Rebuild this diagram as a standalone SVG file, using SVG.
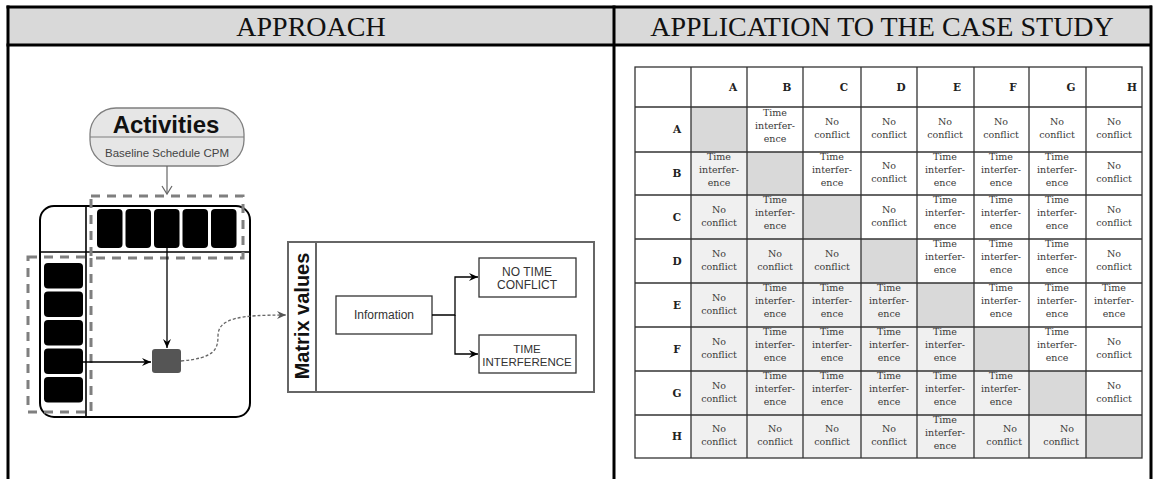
<svg xmlns="http://www.w3.org/2000/svg" width="1153" height="479" viewBox="0 0 1153 479">
<style>
.frame{stroke:#000;stroke-width:3;fill:none}
.hdr{font-family:"Liberation Serif",serif;font-size:28px;fill:#111;text-anchor:middle}
.blk{fill:#000}
.dash{fill:none;stroke:#7f7f7f;stroke-width:3;stroke-dasharray:9 7}
.ln{stroke:#000;stroke-width:1.3;fill:none}
.sans{font-family:"Liberation Sans",Arial,sans-serif;fill:#333;text-anchor:middle}
.box{fill:#fff;stroke:#333;stroke-width:1.3}
.grid{stroke:#333;stroke-width:1.3;fill:none}
.ct{font-family:"DejaVu Serif",serif;font-size:9.5px;fill:#3a3a3a;text-anchor:middle}
.ce{font-family:"DejaVu Serif",serif;font-size:9.5px;fill:#3a3a3a;text-anchor:end}
.lb{font-family:"DejaVu Serif",serif;font-size:10.5px;font-weight:bold;fill:#222;text-anchor:middle}
.diag{fill:#d9d9d9}
.low{fill:#f0f0f0}
</style>
<defs>
<marker id="ah" markerWidth="10" markerHeight="10" refX="9" refY="5" orient="auto" markerUnits="userSpaceOnUse"><path d="M0,1 L9,5 L0,9 L3,5 Z" fill="#000"/></marker>
<marker id="ahg" markerWidth="10" markerHeight="10" refX="9" refY="5" orient="auto" markerUnits="userSpaceOnUse"><path d="M0,1 L9,5 L0,9 L3,5 Z" fill="#555"/></marker>
</defs>
<rect x="0" y="0" width="1153" height="479" fill="#fff"/>

<g id="outer-table">
<rect x="8" y="7" width="1143" height="38" fill="#d9d9d9"/>
<line class="frame" x1="6.5" y1="7" x2="1152" y2="7"/>
<line class="frame" x1="6.5" y1="45" x2="1152" y2="45"/>
<line class="frame" x1="8" y1="5.5" x2="8" y2="479"/>
<line class="frame" x1="614" y1="5.5" x2="614" y2="479"/>
<line class="frame" x1="1151" y1="5.5" x2="1151" y2="479"/>
<text class="hdr" x="311" y="36">APPROACH</text>
<text class="hdr" x="882" y="36">APPLICATION TO THE CASE STUDY</text>
</g>

<g id="activities">
<rect x="90" y="108" width="154" height="58" rx="26" fill="#e6e6e6" stroke="#7f7f7f" stroke-width="1.3"/>
<line x1="90" y1="137" x2="244" y2="137" stroke="#7f7f7f" stroke-width="1.2"/>
<text x="166" y="133" font-family="Liberation Sans,Arial,sans-serif" font-size="24" font-weight="bold" fill="#111" text-anchor="middle">Activities</text>
<text x="167" y="157" font-family="Liberation Sans,Arial,sans-serif" font-size="11.5" fill="#444" text-anchor="middle">Baseline Schedule CPM</text>
</g>

<g id="matrix">
<rect x="40" y="206" width="210" height="211" rx="14" fill="#fff" stroke="#000" stroke-width="2"/>
<line x1="86" y1="206" x2="86" y2="417" stroke="#000" stroke-width="1.6"/>
<line x1="40" y1="252" x2="250" y2="252" stroke="#000" stroke-width="1.6"/>
<g id="top-activities">
<rect class="blk" x="97" y="209" width="25.5" height="39" rx="4"/>
<rect class="blk" x="125.5" y="209" width="25.5" height="39" rx="4"/>
<rect class="blk" x="154" y="209" width="25.5" height="39" rx="4"/>
<rect class="blk" x="182.5" y="209" width="25.5" height="39" rx="4"/>
<rect class="blk" x="211" y="209" width="25.5" height="39" rx="4"/>
</g>
<g id="left-activities">
<rect class="blk" x="44" y="263" width="39" height="25.5" rx="4"/>
<rect class="blk" x="44" y="291.5" width="39" height="25.5" rx="4"/>
<rect class="blk" x="44" y="320" width="39" height="25.5" rx="4"/>
<rect class="blk" x="44" y="348.5" width="39" height="25.5" rx="4"/>
<rect class="blk" x="44" y="377" width="39" height="25.5" rx="4"/>
</g>
<rect class="dash" x="91" y="196" width="152" height="62"/>
<rect class="dash" x="28" y="257" width="63" height="155"/>
<rect id="cell" x="152" y="349" width="29" height="24" rx="3" fill="#555"/>
</g>

<g id="matrix-values">
<rect x="288" y="242" width="306" height="150" fill="#fff" stroke="#666" stroke-width="2"/>
<line x1="316" y1="242" x2="316" y2="392" stroke="#666" stroke-width="2"/>
<text transform="translate(309,316) rotate(-90)" font-family="Liberation Sans,Arial,sans-serif" font-size="20" font-weight="bold" fill="#111" text-anchor="middle">Matrix values</text>
</g>
<g id="information">
<rect class="box" x="336" y="296" width="96" height="38"/>
<text class="sans" x="384" y="319" font-size="12">Information</text>
</g>
<g id="no-time-conflict">
<rect class="box" x="479" y="258" width="97" height="39"/>
<text class="sans" x="527" y="276" font-size="12">NO TIME</text>
<text class="sans" x="527" y="289" font-size="12">CONFLICT</text>
</g>
<g id="time-interference">
<rect class="box" x="479" y="335" width="97" height="38"/>
<text class="sans" x="527" y="353" font-size="11.5">TIME</text>
<text class="sans" x="527" y="366" font-size="11.5">INTERFERENCE</text>
</g>

<g id="connectors">
<line x1="167" y1="166" x2="167" y2="194" stroke="#666" stroke-width="1.2"/>
<path d="M162,186 L167,194 L172,186" fill="none" stroke="#666" stroke-width="1.2"/>
<line class="ln" x1="167" y1="248" x2="167" y2="348" marker-end="url(#ah)"/>
<line class="ln" x1="83" y1="362" x2="151" y2="362" marker-end="url(#ah)"/>
<path d="M181,361 C214,358 218,350 218,336 C218,318 240,315 286,315" fill="none" stroke="#666" stroke-width="1.3" stroke-dasharray="3 2" marker-end="url(#ahg)"/>
<path class="ln" d="M432,315 H455 V277 H478" marker-end="url(#ah)"/>
<path class="ln" d="M455,315 V354 H478" marker-end="url(#ah)"/>
</g>

<g id="case-table">
<g id="fills">
<rect class="diag" x="691" y="107" width="56" height="45"/>
<rect class="diag" x="747" y="152" width="56" height="43"/>
<rect class="diag" x="803" y="195" width="58" height="44"/>
<rect class="diag" x="861" y="239" width="56" height="44"/>
<rect class="diag" x="917" y="283" width="57" height="44"/>
<rect class="diag" x="974" y="327" width="55" height="44"/>
<rect class="diag" x="1029" y="371" width="57" height="44"/>
<rect class="diag" x="1086" y="415" width="56" height="43"/>
<rect class="low" x="691" y="152" width="56" height="43"/>
<rect class="low" x="691" y="195" width="112" height="44"/>
<rect class="low" x="691" y="239" width="170" height="44"/>
<rect class="low" x="691" y="283" width="226" height="44"/>
<rect class="low" x="691" y="327" width="283" height="44"/>
<rect class="low" x="691" y="371" width="338" height="44"/>
<rect class="low" x="691" y="415" width="395" height="43"/>
</g>
<g class="grid">
<rect x="635" y="67" width="507" height="391"/>
<line x1="691" y1="67" x2="691" y2="458"/>
<line x1="747" y1="67" x2="747" y2="458"/>
<line x1="803" y1="67" x2="803" y2="458"/>
<line x1="861" y1="67" x2="861" y2="458"/>
<line x1="917" y1="67" x2="917" y2="458"/>
<line x1="974" y1="67" x2="974" y2="458"/>
<line x1="1029" y1="67" x2="1029" y2="458"/>
<line x1="1086" y1="67" x2="1086" y2="458"/>
<line x1="635" y1="107" x2="1142" y2="107"/>
<line x1="635" y1="152" x2="1142" y2="152"/>
<line x1="635" y1="195" x2="1142" y2="195"/>
<line x1="635" y1="239" x2="1142" y2="239"/>
<line x1="635" y1="283" x2="1142" y2="283"/>
<line x1="635" y1="327" x2="1142" y2="327"/>
<line x1="635" y1="371" x2="1142" y2="371"/>
<line x1="635" y1="415" x2="1142" y2="415"/>
</g>
<g id="col-labels">
<text class="lb" x="733" y="91">A</text>
<text class="lb" x="787" y="91">B</text>
<text class="lb" x="844" y="91">C</text>
<text class="lb" x="901" y="91">D</text>
<text class="lb" x="957" y="91">E</text>
<text class="lb" x="1013" y="91">F</text>
<text class="lb" x="1071" y="91">G</text>
<text class="lb" x="1132" y="91">H</text>
</g>
<g id="row-labels">
<text class="lb" x="677" y="133">A</text>
<text class="lb" x="677" y="177">B</text>
<text class="lb" x="677" y="221">C</text>
<text class="lb" x="677" y="265">D</text>
<text class="lb" x="677" y="309">E</text>
<text class="lb" x="677" y="353">F</text>
<text class="lb" x="677" y="397">G</text>
<text class="lb" x="677" y="440">H</text>
</g>
<g id="cells">
<text class="ct" x="775" y="116">Time<tspan x="775" dy="13">interfer-</tspan><tspan x="775" dy="13">ence</tspan></text>
<text class="ct" x="832" y="125">No<tspan x="832" dy="13">conflict</tspan></text>
<text class="ct" x="889" y="125">No<tspan x="889" dy="13">conflict</tspan></text>
<text class="ct" x="945" y="125">No<tspan x="945" dy="13">conflict</tspan></text>
<text class="ct" x="1001" y="125">No<tspan x="1001" dy="13">conflict</tspan></text>
<text class="ct" x="1057" y="125">No<tspan x="1057" dy="13">conflict</tspan></text>
<text class="ct" x="1114" y="125">No<tspan x="1114" dy="13">conflict</tspan></text>

<text class="ct" x="719" y="160">Time<tspan x="719" dy="13">interfer-</tspan><tspan x="719" dy="13">ence</tspan></text>
<text class="ct" x="832" y="160">Time<tspan x="832" dy="13">interfer-</tspan><tspan x="832" dy="13">ence</tspan></text>
<text class="ct" x="889" y="169">No<tspan x="889" dy="13">conflict</tspan></text>
<text class="ct" x="945" y="160">Time<tspan x="945" dy="13">interfer-</tspan><tspan x="945" dy="13">ence</tspan></text>
<text class="ct" x="1001" y="160">Time<tspan x="1001" dy="13">interfer-</tspan><tspan x="1001" dy="13">ence</tspan></text>
<text class="ct" x="1057" y="160">Time<tspan x="1057" dy="13">interfer-</tspan><tspan x="1057" dy="13">ence</tspan></text>
<text class="ct" x="1114" y="169">No<tspan x="1114" dy="13">conflict</tspan></text>

<text class="ct" x="719" y="213">No<tspan x="719" dy="13">conflict</tspan></text>
<text class="ct" x="775" y="203">Time<tspan x="775" dy="13">interfer-</tspan><tspan x="775" dy="13">ence</tspan></text>
<text class="ct" x="889" y="213">No<tspan x="889" dy="13">conflict</tspan></text>
<text class="ct" x="945" y="203">Time<tspan x="945" dy="13">interfer-</tspan><tspan x="945" dy="13">ence</tspan></text>
<text class="ct" x="1001" y="203">Time<tspan x="1001" dy="13">interfer-</tspan><tspan x="1001" dy="13">ence</tspan></text>
<text class="ct" x="1057" y="203">Time<tspan x="1057" dy="13">interfer-</tspan><tspan x="1057" dy="13">ence</tspan></text>
<text class="ct" x="1114" y="213">No<tspan x="1114" dy="13">conflict</tspan></text>

<text class="ct" x="719" y="257">No<tspan x="719" dy="13">conflict</tspan></text>
<text class="ct" x="775" y="257">No<tspan x="775" dy="13">conflict</tspan></text>
<text class="ct" x="832" y="257">No<tspan x="832" dy="13">conflict</tspan></text>
<text class="ct" x="945" y="247">Time<tspan x="945" dy="13">interfer-</tspan><tspan x="945" dy="13">ence</tspan></text>
<text class="ct" x="1001" y="247">Time<tspan x="1001" dy="13">interfer-</tspan><tspan x="1001" dy="13">ence</tspan></text>
<text class="ct" x="1057" y="247">Time<tspan x="1057" dy="13">interfer-</tspan><tspan x="1057" dy="13">ence</tspan></text>
<text class="ct" x="1114" y="257">No<tspan x="1114" dy="13">conflict</tspan></text>

<text class="ct" x="719" y="301">No<tspan x="719" dy="13">conflict</tspan></text>
<text class="ct" x="775" y="291">Time<tspan x="775" dy="13">interfer-</tspan><tspan x="775" dy="13">ence</tspan></text>
<text class="ct" x="832" y="291">Time<tspan x="832" dy="13">interfer-</tspan><tspan x="832" dy="13">ence</tspan></text>
<text class="ct" x="889" y="291">Time<tspan x="889" dy="13">interfer-</tspan><tspan x="889" dy="13">ence</tspan></text>
<text class="ct" x="1001" y="291">Time<tspan x="1001" dy="13">interfer-</tspan><tspan x="1001" dy="13">ence</tspan></text>
<text class="ct" x="1057" y="291">Time<tspan x="1057" dy="13">interfer-</tspan><tspan x="1057" dy="13">ence</tspan></text>
<text class="ct" x="1114" y="291">Time<tspan x="1114" dy="13">interfer-</tspan><tspan x="1114" dy="13">ence</tspan></text>

<text class="ct" x="719" y="345">No<tspan x="719" dy="13">conflict</tspan></text>
<text class="ct" x="775" y="335">Time<tspan x="775" dy="13">interfer-</tspan><tspan x="775" dy="13">ence</tspan></text>
<text class="ct" x="832" y="335">Time<tspan x="832" dy="13">interfer-</tspan><tspan x="832" dy="13">ence</tspan></text>
<text class="ct" x="889" y="335">Time<tspan x="889" dy="13">interfer-</tspan><tspan x="889" dy="13">ence</tspan></text>
<text class="ct" x="945" y="335">Time<tspan x="945" dy="13">interfer-</tspan><tspan x="945" dy="13">ence</tspan></text>
<text class="ct" x="1057" y="335">Time<tspan x="1057" dy="13">interfer-</tspan><tspan x="1057" dy="13">ence</tspan></text>
<text class="ct" x="1114" y="345">No<tspan x="1114" dy="13">conflict</tspan></text>

<text class="ct" x="719" y="389">No<tspan x="719" dy="13">conflict</tspan></text>
<text class="ct" x="775" y="379">Time<tspan x="775" dy="13">interfer-</tspan><tspan x="775" dy="13">ence</tspan></text>
<text class="ct" x="832" y="379">Time<tspan x="832" dy="13">interfer-</tspan><tspan x="832" dy="13">ence</tspan></text>
<text class="ct" x="889" y="379">Time<tspan x="889" dy="13">interfer-</tspan><tspan x="889" dy="13">ence</tspan></text>
<text class="ct" x="945" y="379">Time<tspan x="945" dy="13">interfer-</tspan><tspan x="945" dy="13">ence</tspan></text>
<text class="ct" x="1001" y="379">Time<tspan x="1001" dy="13">interfer-</tspan><tspan x="1001" dy="13">ence</tspan></text>
<text class="ct" x="1114" y="389">No<tspan x="1114" dy="13">conflict</tspan></text>

<text class="ct" x="719" y="432">No<tspan x="719" dy="13">conflict</tspan></text>
<text class="ct" x="775" y="432">No<tspan x="775" dy="13">conflict</tspan></text>
<text class="ct" x="832" y="432">No<tspan x="832" dy="13">conflict</tspan></text>
<text class="ct" x="889" y="432">No<tspan x="889" dy="13">conflict</tspan></text>
<text class="ct" x="945" y="423">Time<tspan x="945" dy="13">interfer-</tspan><tspan x="945" dy="13">ence</tspan></text>
<text class="ce" x="1017" y="432">No<tspan x="1022" dy="13">conflict</tspan></text>
<text class="ce" x="1074" y="432">No<tspan x="1079" dy="13">conflict</tspan></text>
</g>
</g>
</svg>
